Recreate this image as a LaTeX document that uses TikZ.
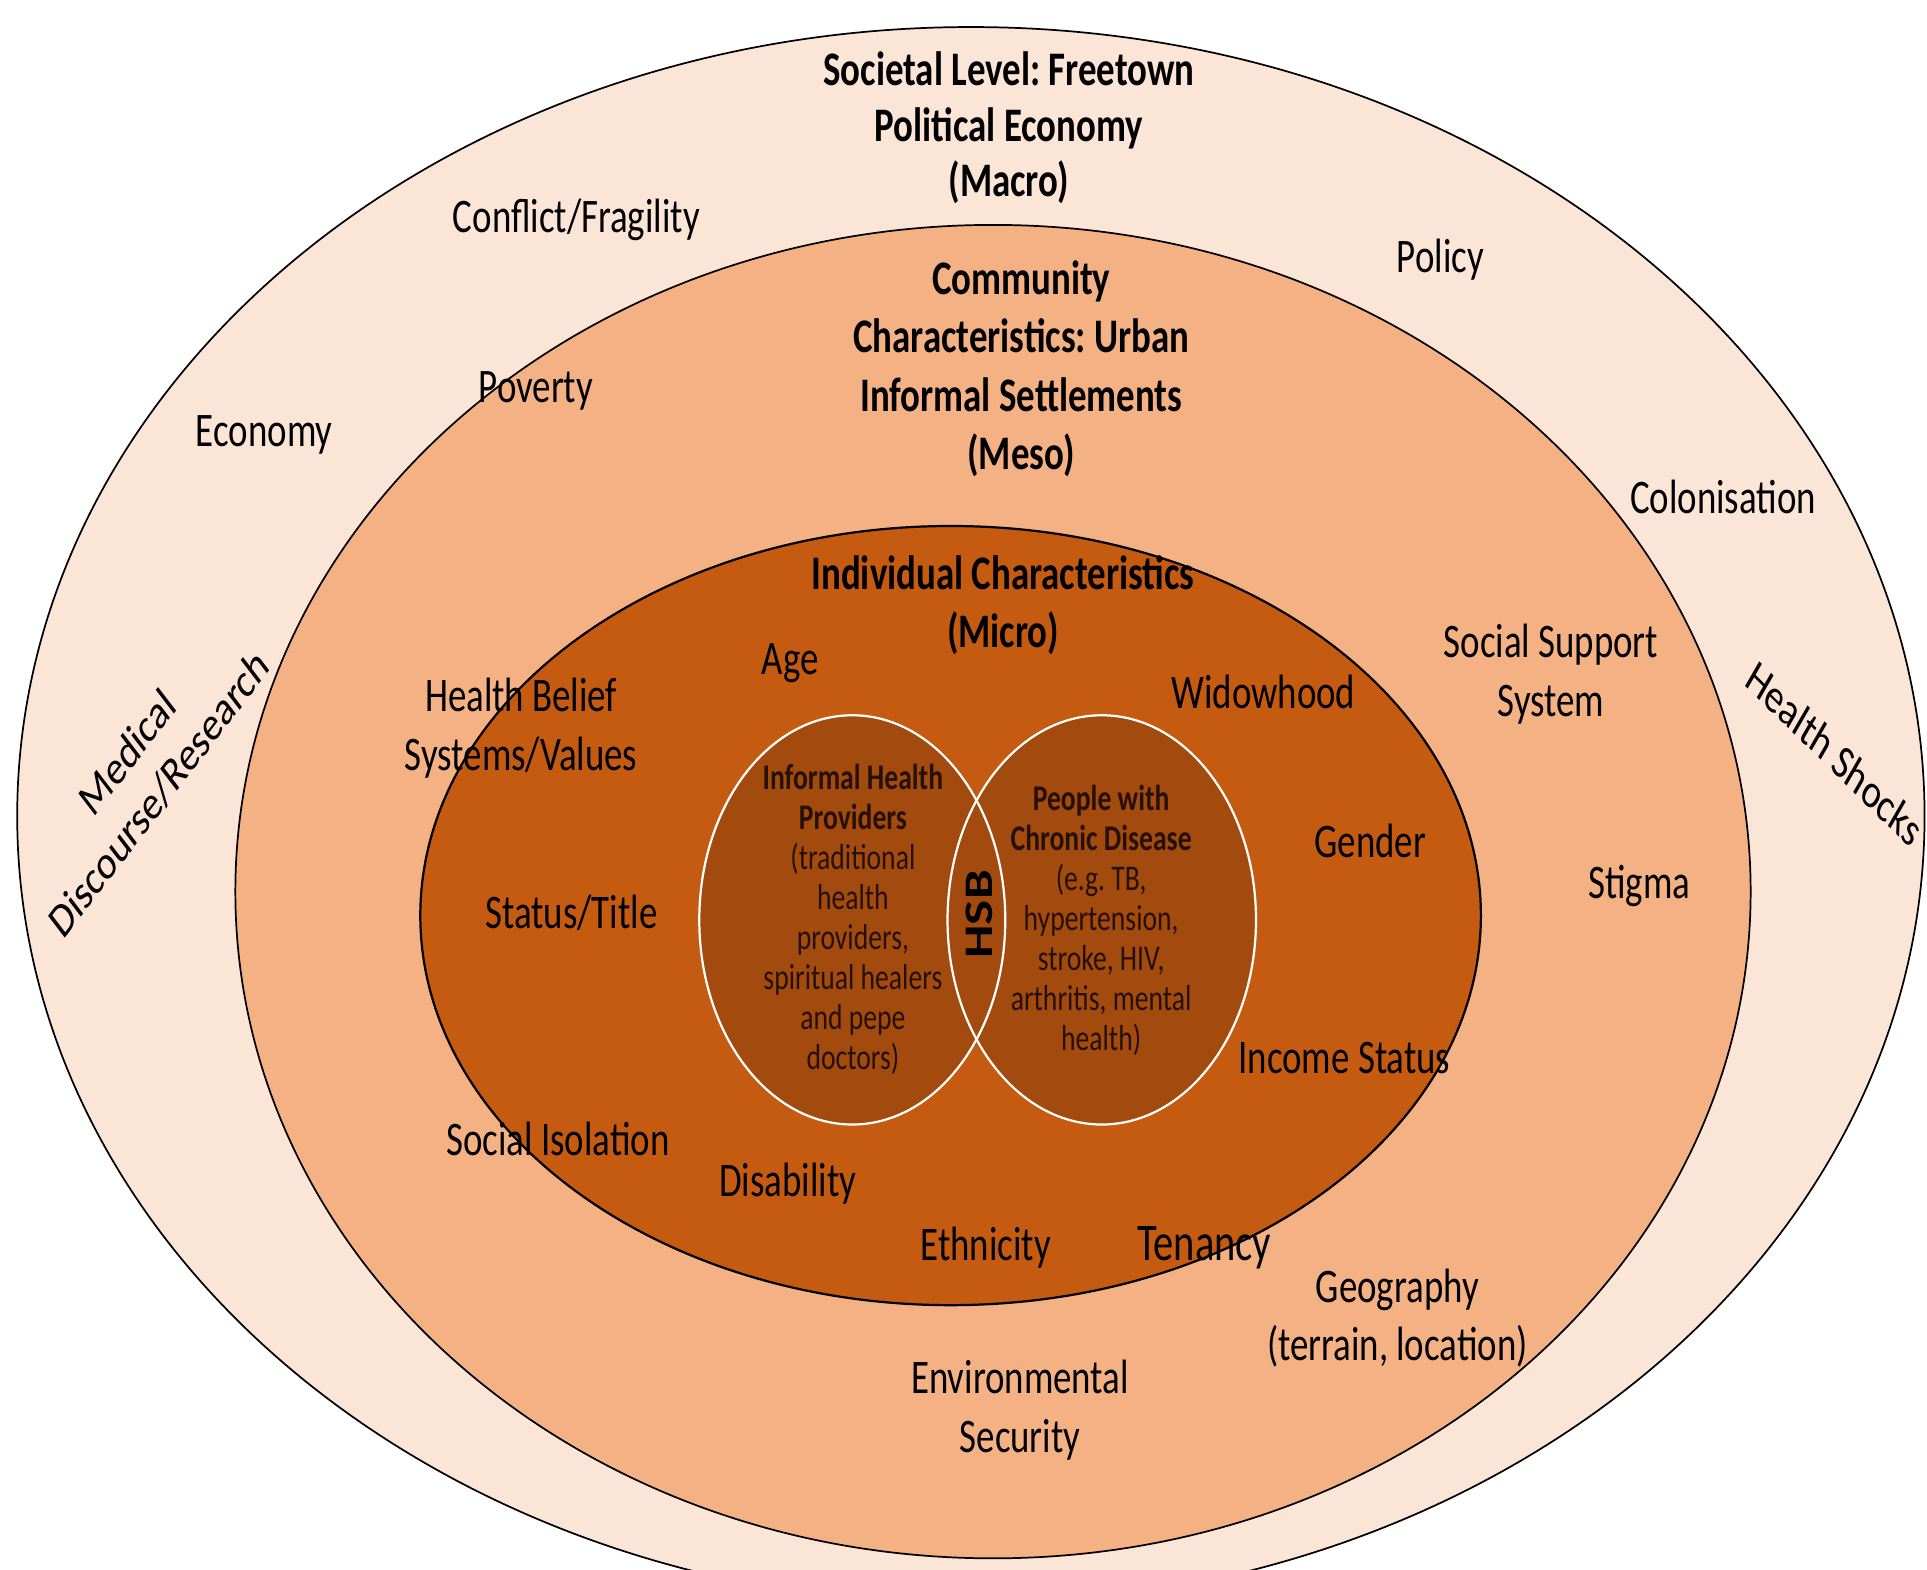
\documentclass[tikz,border=0pt]{standalone}
\usepackage{fontspec}
\setmainfont{Carlito}
\frenchspacing
\definecolor{outerc}{HTML}{FBE5D6}
\definecolor{midc}{HTML}{F4B183}
\definecolor{innerc}{HTML}{C55A11}
\definecolor{vennc}{HTML}{A34B0F}
\definecolor{venntext}{RGB}{38,16,2}
\begin{document}
\begin{tikzpicture}[x=1pt,y=-0.765111pt,yscale=1.307,
  every node/.style={transform shape,align=center,inner sep=0pt,text=black},
  lbl/.style={font=\fontsize{30}{36.3}\selectfont},
  ttl/.style={font=\fontsize{30}{36.3}\selectfont\bfseries},
  vtxt/.style={font=\fontsize{22.5}{24.9}\selectfont,text=venntext},
  ring/.style={draw=black,line width=1.4pt}]
\useasboundingbox (0,0) rectangle (1568,1277.5);
\fill[white] (0,0) rectangle (1568,1277.5);
% rings
\filldraw[ring,fill=outerc] (790,664) ellipse [x radius=776, y radius=642];
\filldraw[ring,fill=midc] (808,725.5) ellipse [x radius=616.5, y radius=542.5];
\filldraw[ring,fill=innerc,line width=1.8pt] (773.5,745) ellipse [x radius=431.5, y radius=317];
% venn
\fill[vennc] (693.5,748.5) ellipse [x radius=124.5, y radius=166.5];
\fill[vennc] (896.5,748.5) ellipse [x radius=125.5, y radius=166.5];
\draw[white,line width=1.8pt] (693.5,748.5) ellipse [x radius=124.5, y radius=166.5];
\draw[white,line width=1.8pt] (896.5,748.5) ellipse [x radius=125.5, y radius=166.5];
% macro level
\node[ttl,font=\fontsize{30}{34.6}\selectfont\bfseries] (macro) at (821,104) {Societal Level: Freetown\\Political Economy\\(Macro)};
\node[lbl] (conflict) at (469,179) {Conflict/Fragility};
\node[lbl] (policy) at (1172,211) {Policy};
\node[lbl] (economy) at (215,354) {Economy};
\node[lbl] (colon) at (1402,404) {Colonisation};
\node[lbl,rotate=45] (medical) at (116.5,629) {Medical\\Discourse/Research};
\node[lbl,rotate=-37] (shocks) at (1493,613) {Health Shocks};
% meso level
\node[ttl] (meso) at (831,300) {Community\\Characteristics: Urban\\Informal Settlements\\(Meso)};
\node[lbl] (poverty) at (436,318) {Poverty};
\node[lbl] (support) at (1262,548.5) {Social Support\\System};
\node[lbl] (stigma) at (1334,721) {Stigma};
\node[lbl] (geo) at (1137,1072.5) {Geography\\(terrain, location)};
\node[lbl] (env) at (830,1147.5) {Environmental\\Security};
% micro level
\node[ttl] (micro) at (816,492.5) {Individual Characteristics\\(Micro)};
\node[lbl] (age) at (643,540) {Age};
\node[lbl] (widow) at (1028,563) {Widowhood};
\node[lbl] (belief) at (424,592.5) {Health Belief\\Systems/Values};
\node[lbl] (gender) at (1115,684) {Gender};
\node[lbl] (status) at (465,743) {Status/Title};
\node[lbl] (income) at (1094,861) {Income Status};
\node[lbl] (isolation) at (454,927) {Social Isolation};
\node[lbl] (disab) at (641,963) {Disability};
\node[lbl] (ethnic) at (802,1015) {Ethnicity};
\node[lbl,font=\fontsize{33}{40}\selectfont] (tenancy) at (980,1015) {Tenancy};
% venn texts
\node[vtxt] (ihp) at (694,748) {\textbf{Informal Health}\\\textbf{Providers}\\(traditional\\health\\providers,\\spiritual healers\\and pepe\\doctors)};
\node[vtxt] (pcd) at (896,748.5) {\textbf{People with}\\\textbf{Chronic Disease}\\(e.g. TB,\\hypertension,\\stroke, HIV,\\arthritis, mental\\health)};
\node[font=\fontsize{33}{40}\selectfont\bfseries,rotate=90] (hsb) at (796.5,744) {HSB};
\end{tikzpicture}
\end{document}
